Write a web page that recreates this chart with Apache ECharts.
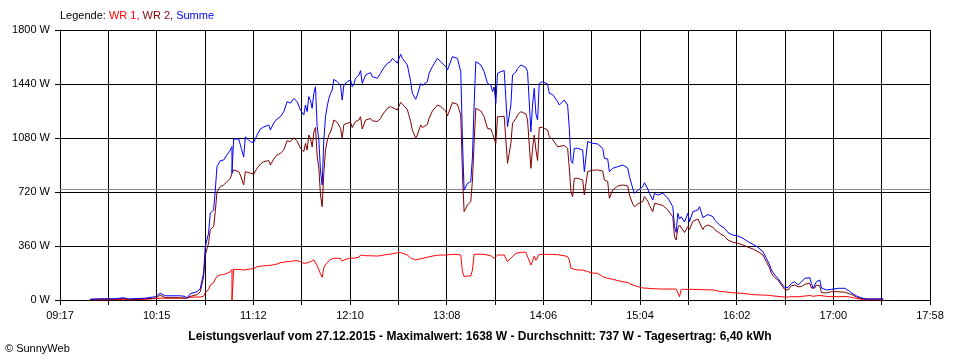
<!DOCTYPE html>
<html><head><meta charset="utf-8">
<script src="https://cdn.jsdelivr.net/npm/echarts@6/dist/echarts.min.js"></script>
<style>html,body{margin:0;padding:0;background:#fff}#c{width:960px;height:360px}</style>
</head><body><div id="c"></div>
<script>
// ---- data ----
const times = ["09:35","09:41","09:50","09:55","09:58","10:08","10:14","10:17","10:20","10:29","10:32","10:33","10:35","10:39","10:41","10:43","10:44","10:46","10:47","10:49","10:50","10:51","10:53","10:55","10:57","10:59","11:00","11:00","11:01","11:04","11:05","11:07","11:08","11:11","11:13","11:15","11:17","11:19","11:22","11:23","11:25","11:27","11:29","11:31","11:33","11:35","11:37","11:39","11:41","11:43","11:44","11:45","11:46","11:47","11:48","11:49","11:50","11:51","11:52","11:53","11:54","11:55","11:56","11:57","11:58","11:59","12:00","12:01","12:03","12:05","12:06","12:07","12:09","12:11","12:12","12:13","12:14","12:16","12:17","12:18","12:20","12:23","12:24","12:27","12:29","12:30","12:33","12:35","12:36","12:39","12:41","12:42","12:45","12:47","12:48","12:50","12:51","12:53","12:54","12:57","12:58","13:00","13:03","13:05","13:06","13:08","13:09","13:12","13:15","13:17","13:18","13:19","13:21","13:23","13:24","13:25","13:26","13:29","13:31","13:33","13:35","13:36","13:37","13:38","13:39","13:41","13:43","13:44","13:45","13:47","13:48","13:50","13:51","13:53","13:56","13:57","13:59","14:00","14:01","14:02","14:03","14:04","14:06","14:09","14:10","14:12","14:15","14:16","14:19","14:21","14:22","14:23","14:24","14:25","14:27","14:30","14:31","14:33","14:34","14:36","14:39","14:42","14:43","14:45","14:46","14:48","14:51","14:54","14:55","14:57","14:58","15:00","15:01","15:03","15:06","15:07","15:09","15:10","15:12","15:13","15:15","15:18","15:19","15:21","15:24","15:25","15:26","15:27","15:28","15:29","15:31","15:33","15:34","15:36","15:39","15:40","15:42","15:43","15:45","15:48","15:49","15:52","15:55","15:57","16:00","16:03","16:06","16:09","16:12","16:15","16:18","16:20","16:22","16:23","16:25","16:27","16:29","16:31","16:33","16:35","16:37","16:39","16:41","16:43","16:46","16:47","16:48","16:49","16:50","16:52","16:53","16:56","16:59","17:03","17:07","17:10","17:12","17:14","17:16","17:18","17:20","17:30"];
const summe = [5,8,8,15,7,12,22,45,28,28,24,10,42,55,75,180,355,447,580,600,733,889,929,933,967,1000,1022,845,1073,1073,1035,953,1087,1055,1050,1100,1140,1153,1167,1133,1180,1207,1222,1256,1322,1313,1344,1322,1267,1233,1300,1256,1356,1330,1278,1378,1422,1156,1067,860,767,1067,1222,1289,1344,1378,1400,1471,1456,1433,1333,1433,1456,1467,1422,1440,1478,1500,1529,1444,1500,1516,1489,1478,1511,1533,1578,1589,1611,1580,1638,1611,1567,1456,1378,1338,1367,1444,1430,1456,1511,1556,1611,1589,1589,1556,1533,1622,1611,1522,1067,733,778,789,956,1300,1589,1567,1522,1444,1433,1389,1420,1311,1511,1522,1530,1520,1156,1300,1500,1520,1544,1567,1550,1522,1122,1300,1411,1240,1200,1444,1456,1440,1378,1370,1322,1300,1333,1300,1144,930,911,1011,1011,1000,856,1056,1067,1045,1040,1011,944,940,856,878,889,900,911,880,822,744,711,730,756,782,740,711,667,711,700,711,711,680,622,489,450,578,540,555,520,578,522,589,600,622,550,556,570,556,533,500,478,449,433,427,411,389,371,351,322,278,233,200,167,144,111,84,84,111,122,100,120,144,149,110,78,90,122,133,80,67,71,78,78,56,40,27,18,11,7,7];
const wr2 = [4,6,6,11,5,8,12,32,16,15,12,3,24,35,55,155,300,380,470,489,590,720,756,767,789,811,815,845,867,856,833,767,856,845,840,878,907,922,930,900,940,967,978,1000,1062,1056,1082,1060,1011,989,1044,1000,1100,1078,1020,1120,1150,960,880,700,622,850,1000,1060,1100,1120,1156,1200,1185,1144,1078,1170,1178,1185,1150,1150,1190,1200,1222,1140,1200,1210,1195,1190,1210,1233,1278,1289,1300,1267,1318,1305,1270,1189,1133,1078,1100,1167,1150,1170,1210,1260,1300,1290,1285,1260,1227,1316,1305,1233,844,589,633,656,800,1050,1278,1260,1222,1144,1140,1110,1122,1044,1222,1222,1225,1222,911,1044,1178,1210,1233,1256,1240,1200,878,1011,1100,1000,930,1151,1151,1133,1089,1070,1022,1011,1030,1011,880,720,689,811,811,800,700,856,860,865,867,860,800,790,678,733,760,767,780,760,700,640,622,640,656,689,660,630,589,644,640,630,622,600,555,422,400,480,500,511,450,490,470,525,540,544,470,489,500,485,470,445,425,400,385,378,367,352,340,322,300,256,211,178,150,133,100,70,67,95,100,88,90,105,111,80,73,80,100,95,49,47,56,55,52,40,32,20,11,8,6,6];
const wr1 = [0,1,2,3,2,4,10,12,12,12,12,8,18,20,20,25,50,70,100,116,140,156,167,170,178,190,204,0,204,204,202,200,205,207,208,222,225,228,230,232,235,240,249,252,256,256,262,262,256,244,250,248,250,255,262,267,265,230,200,175,151,215,235,250,262,270,275,278,278,276,260,265,275,280,275,278,282,285,300,290,295,295,293,293,296,300,304,306,310,315,316,312,300,280,268,267,267,275,278,285,290,293,298,300,300,300,302,304,304,300,189,156,160,160,200,305,311,305,304,300,295,285,278,275,300,300,300,298,256,278,290,311,316,318,318,318,233,260,293,265,275,304,304,304,304,304,302,300,295,289,267,211,208,205,200,200,190,189,185,180,178,156,150,144,140,138,129,122,120,116,112,100,95,90,80,80,78,78,76,75,74,73,73,73,73,73,73,72,22,71,71,71,71,71,70,70,69,68,68,67,67,58,55,52,48,46,44,40,36,34,33,32,30,28,26,24,22,20,20,22,22,22,24,26,30,30,25,12,28,30,28,24,22,22,24,20,15,10,7,3,1,0];
const xTickLabels = ["09:17","10:15","11:12","12:10","13:08","14:06","15:04","16:02","17:00","17:58"];
const axisStart = "09:17", axisEnd = "17:58";
const yMin = 0, yMax = 1800, yStep = 360;
const average = 737;
const titleText = "Leistungsverlauf vom 27.12.2015 - Maximalwert: 1638 W - Durchschnitt: 737 W - Tagesertrag: 6,40 kWh";

// ---- build ----
function toMin(t){const p=t.split(':').map(Number);return p[0]*60+p[1];}
const start = toMin(axisStart), span = toMin(axisEnd) - start;
const xStep = span / 18;
function pairs(vals){return times.map((t,i)=>[toMin(t)-start, vals[i]]);}
const FONT = "'Liberation Sans', Arial, sans-serif";

const chart = echarts.init(document.getElementById('c'), null, {renderer:'canvas'});
chart.setOption({
  animation:false,
  backgroundColor:'#ffffff',
  grid:{left:60, right:30, top:30, bottom:60, containLabel:false},
  xAxis:{
    type:'value', min:0, max:span, interval:xStep,
    axisLine:{show:true, lineStyle:{color:'#000', width:1}},
    axisTick:{show:true, length:5, lineStyle:{color:'#000'}},
    splitLine:{show:true, lineStyle:{color:'#000', width:1}},
    axisLabel:{color:'#000', fontFamily:FONT, fontSize:11, margin:10, showMinLabel:true, showMaxLabel:true,
      formatter:function(v){const k=Math.round(v/xStep); return k%2===0 ? (xTickLabels[k/2]||'') : '';}}
  },
  yAxis:{
    type:'value', min:yMin, max:yMax, interval:yStep,
    axisLine:{show:true, lineStyle:{color:'#000', width:1}},
    axisTick:{show:true, length:5, lineStyle:{color:'#000'}},
    splitLine:{show:true, lineStyle:{color:'#000', width:1}},
    axisLabel:{color:'#000', fontFamily:FONT, fontSize:11, margin:10, formatter:function(v){return String(Math.round(v))+' W';}}
  },
  series:[
    {name:'WR 1', type:'line', data:pairs(wr1), showSymbol:false, symbol:'none', lineStyle:{color:'#ff0000', width:1}, itemStyle:{color:'#ff0000'}, z:3,
      markLine:{silent:true, symbol:'none', label:{show:false}, lineStyle:{color:'#8c8c8c', width:1, type:'solid'}, data:[{yAxis:average}], z:1}},
    {name:'WR 2', type:'line', data:pairs(wr2), showSymbol:false, symbol:'none', lineStyle:{color:'#800000', width:1}, itemStyle:{color:'#800000'}, z:4},
    {name:'Summe', type:'line', data:pairs(summe), showSymbol:false, symbol:'none', lineStyle:{color:'#0000ff', width:1}, itemStyle:{color:'#0000ff'}, z:5}
  ],
  graphic:[
    {type:'text', left:60, top:10, style:{
      text:'Legende: {a|WR 1,} {b|WR 2,} {c|Summe}',
      font:'11px '+FONT, fill:'#000',
      rich:{a:{fill:'#ff0000', font:'11px '+FONT}, b:{fill:'#800000', font:'11px '+FONT}, c:{fill:'#0000ff', font:'11px '+FONT}}
    }},
    {type:'text', x:480, y:337, style:{text:titleText, font:'bold 12px '+FONT, fill:'#000', textAlign:'center', textVerticalAlign:'middle'}},
    {type:'text', x:5, y:349, style:{text:'© SunnyWeb', font:'11px '+FONT, fill:'#000', textAlign:'left', textVerticalAlign:'middle'}}
  ]
});
</script>
</body></html>
